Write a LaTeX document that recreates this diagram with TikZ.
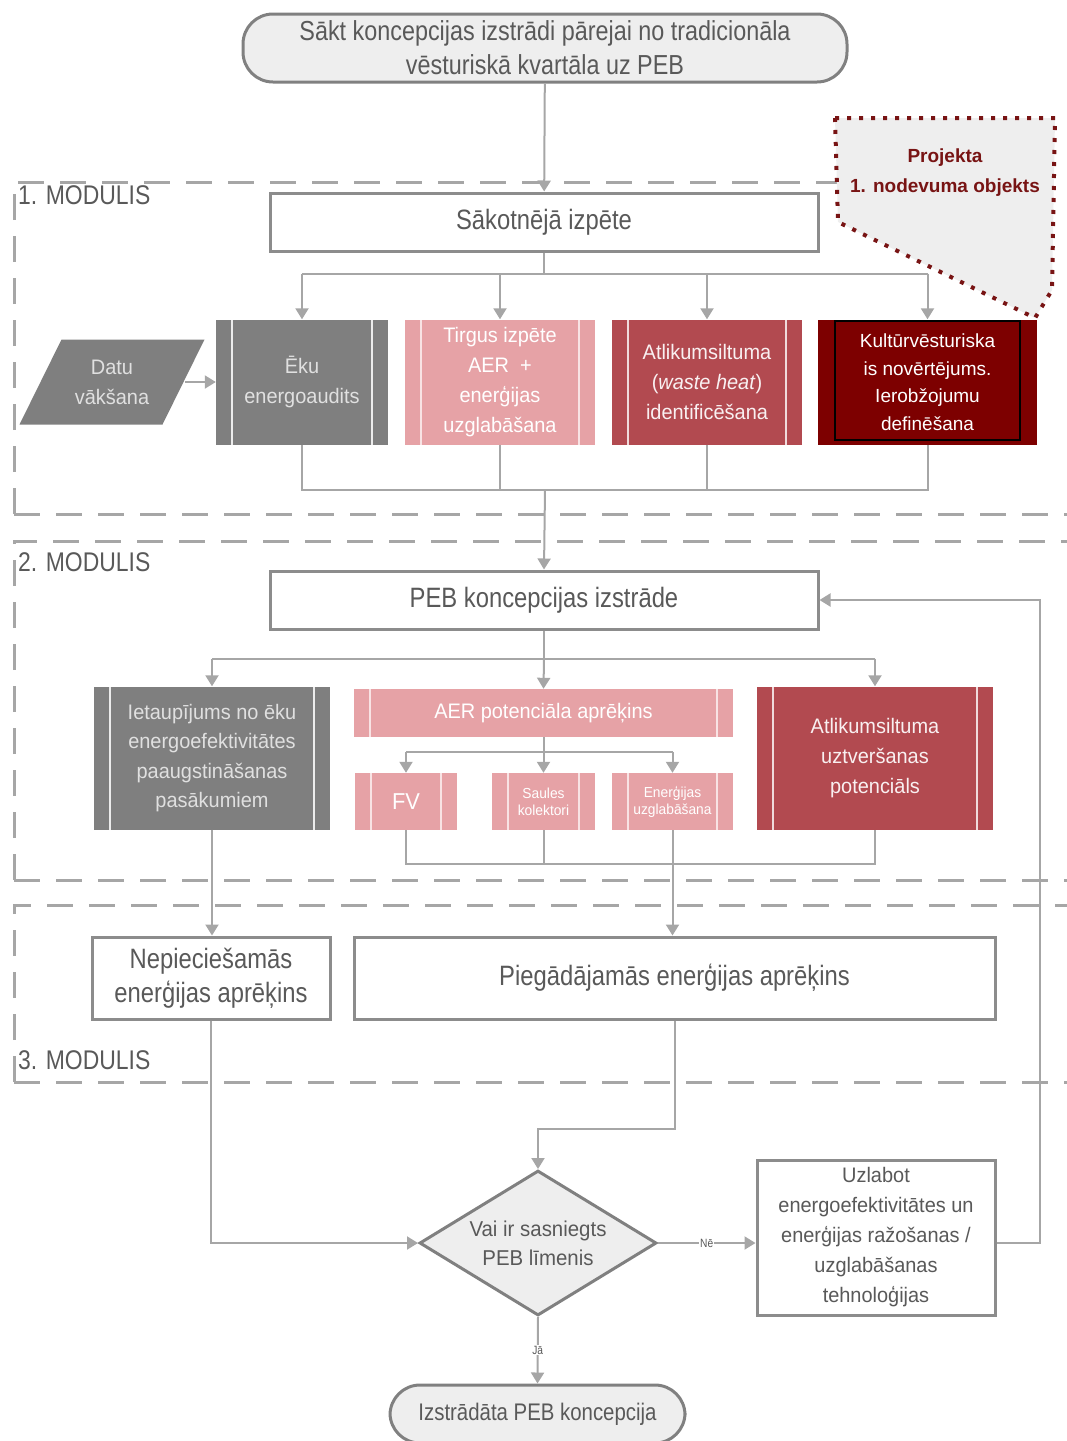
\documentclass[tikz,border=0pt]{standalone}
\usepackage{fontspec}
\setmainfont{Liberation Sans}[FakeStretch=0.85]
\newfontfamily\widefont{Liberation Sans}
\newfontfamily\boxfont{Liberation Sans}[FakeStretch=0.95]
\usetikzlibrary{shapes.geometric, arrows.meta, positioning}

\definecolor{boxgray}{RGB}{127,127,127}
\definecolor{boxpink}{RGB}{230,162,166}
\definecolor{boxred}{RGB}{178,74,80}
\definecolor{boxdark}{RGB}{125,0,0}
\definecolor{linegray}{RGB}{166,166,166}
\definecolor{framegray}{RGB}{140,140,140}
\definecolor{textgray}{RGB}{89,89,89}
\definecolor{notefill}{RGB}{238,238,238}
\definecolor{notered}{RGB}{120,20,20}

\tikzset{sidebars/.style={path picture={
  \draw[#1, line width=1.5pt]
    ([xshift=16pt]path picture bounding box.south west) -- ([xshift=16pt]path picture bounding box.north west)
    ([xshift=-16pt]path picture bounding box.south east) -- ([xshift=-16pt]path picture bounding box.north east);}}}

\tikzstyle{plain} = [rectangle, draw=framegray, line width=3pt, fill=white, text=textgray, align=center, font=\fontsize{28}{34}\selectfont]
\tikzstyle{terminal} = [rectangle, rounded corners=30pt, draw=gray, line width=3pt, fill=notefill, text=textgray, align=center, font=\fontsize{27.5}{34}\selectfont]
\tikzstyle{procgray} = [rectangle, fill=boxgray, text=white!88!black, align=center, inner sep=0pt, font=\boxfont\fontsize{21}{30}\selectfont, sidebars=white!85!boxgray]
\tikzstyle{procpink} = [rectangle, fill=boxpink, text=white, align=center, inner sep=0pt, font=\boxfont\fontsize{21}{30}\selectfont, sidebars=white!70!boxpink]
\tikzstyle{procred} = [rectangle, fill=boxred, text=white!92!boxred, align=center, inner sep=0pt, font=\boxfont\fontsize{21}{30}\selectfont, sidebars=white!80!boxred]
\tikzstyle{arrow} = [line width=2pt, draw=linegray, -{Triangle[width=13pt,length=11pt]}]
\tikzstyle{line} = [line width=2pt, draw=linegray]
\tikzstyle{modframe} = [line width=3pt, draw=linegray, dash pattern=on 26pt off 16pt]
\tikzstyle{modlabel} = [anchor=west, text=textgray, inner sep=0pt, font=\fontsize{27}{30}\selectfont]
\tikzstyle{branchlabel} = [fill=white, inner sep=1pt, text=textgray, font=\fontsize{12}{14}\selectfont]

\begin{document}
\begin{tikzpicture}[x=1pt, y=-1pt]
    \useasboundingbox (0,0) rectangle (1067,1441);

    % Module frames
    \draw [modframe] (14,514) -- (14,182) -- (1090,182);
    \draw [modframe] (14,514) -- (1090,514);
    \draw [modframe] (14,880) -- (14,541) -- (1090,541);
    \draw [modframe] (14,880) -- (1090,880);
    \draw [modframe] (14,1082) -- (14,905) -- (1090,905);
    \draw [modframe] (14,1082) -- (1090,1082);
    \node (mod1) [modlabel] at (18,195) {1. MODULIS};
    \node (mod2) [modlabel] at (18,562) {2. MODULIS};
    \node (mod3) [modlabel] at (18,1060) {3. MODULIS};

    % Callout
    \draw [notered, fill=notefill, line width=4pt, dash pattern=on 4pt off 8pt]
        (835,118) -- (1055,118) -- (1052,290) -- (1035,318) -- (838,222) -- cycle;
    \node (note) [align=center, text=notered, font=\widefont\bfseries\fontsize{19}{30}\selectfont] at (945,173) {Projekta\\1. nodevuma objekts};

    % Nodes
    \node (start) [terminal, minimum width=604pt, minimum height=68pt] at (545,48) {Sākt koncepcijas izstrādi pārejai no tradicionāla\\vēsturiskā kvartāla uz PEB};
    \node (init) [plain, minimum width=548pt, minimum height=58pt] at (544,222) {Sākotnējā izpēte};
    \node (datu) [rectangle, minimum width=185pt, minimum height=85pt, inner sep=0pt, text=white!88!black, align=center, font=\boxfont\fontsize{21}{30}\selectfont,
        path picture={\fill[boxgray] (path picture bounding box.south west) -- ([xshift=42pt]path picture bounding box.north west) -- (path picture bounding box.north east) -- ([xshift=-42pt]path picture bounding box.south east) -- cycle;}]
        at (112,382) {Datu\\vākšana};
    \node (eku) [procgray, minimum width=172pt, minimum height=125pt] at (302,382) {Ēku\\energoaudits};
    \node (tirgus) [procpink, minimum width=190pt, minimum height=125pt] at (500,382) {Tirgus izpēte\\AER \ +\\enerģijas\\uzglabāšana};
    \node (atlik1) [procred, minimum width=190pt, minimum height=125pt] at (707,382) {Atlikumsiltuma\\(\textit{waste heat})\\identificēšana};
    \node (kultur) [rectangle, fill=boxdark, text=white, align=center, inner sep=0pt, minimum width=219pt, minimum height=125pt, font=\widefont\fontsize{19}{27.5}\selectfont,
        path picture={\draw[black, line width=2pt] ([xshift=17pt,yshift=5pt]path picture bounding box.south west) rectangle ([xshift=-17pt,yshift=-1pt]path picture bounding box.north east);}]
        at (927.5,382) {Kultūrvēsturiska\\is novērtējums.\\Ierobžojumu\\definēšana};

    \node (peb) [plain, minimum width=548pt, minimum height=58pt] at (544,600) {PEB koncepcijas izstrāde};
    \node (ietaup) [procgray, minimum width=236pt, minimum height=143pt, font=\boxfont\fontsize{21}{29.5}\selectfont] at (212,758) {Ietaupījums no ēku\\energoefektivitātes\\paaugstināšanas\\pasākumiem};
    \node (aer) [procpink, minimum width=379pt, minimum height=48pt] at (543.5,713) {AER potenciāla aprēķins};
    \node (fv) [procpink, minimum width=102pt, minimum height=57pt, font=\boxfont\fontsize{23}{26}\selectfont] at (406,801.5) {FV};
    \node (saules) [procpink, minimum width=103pt, minimum height=57pt, font=\boxfont\fontsize{14.5}{17}\selectfont] at (543.5,801.5) {Saules\\kolektori};
    \node (energ) [procpink, minimum width=121pt, minimum height=57pt, font=\boxfont\fontsize{14.5}{17}\selectfont] at (672.5,801.5) {Enerģijas\\uzglabāšana};
    \node (atlik2) [procred, minimum width=236pt, minimum height=143pt] at (875,758) {Atlikumsiltuma\\uztveršanas\\potenciāls};

    \node (nepiec) [plain, minimum width=238pt, minimum height=82pt] at (211,978) {Nepieciešamās\\enerģijas aprēķins};
    \node (piegad) [plain, minimum width=641pt, minimum height=82pt] at (674.5,978) {Piegādājamās enerģijas aprēķins};

    \node (dec) [diamond, aspect=1.63, minimum width=237pt, minimum height=145pt, inner sep=0pt, draw=gray, line width=3pt, fill=notefill, text=textgray, align=center, font=\boxfont\fontsize{21.5}{29}\selectfont] at (538,1243) {Vai ir sasniegts\\PEB līmenis};
    \node (uzlab) [plain, minimum width=238pt, minimum height=155pt, font=\boxfont\fontsize{21}{30}\selectfont] at (876,1237.5) {Uzlabot\\energoefektivitātes un\\enerģijas ražošanas /\\uzglabāšanas\\tehnoloģijas};
    \node (end) [terminal, minimum width=295pt, minimum height=58pt, font=\fontsize{24}{28}\selectfont] at (537.5,1414) {Izstrādāta PEB koncepcija};

    % Arrows
    \draw [arrow] (start) -- (init);
    \draw [line] (init.south) -- ++(0,21) coordinate (b1);
    \draw [line] (eku.north |- b1) -- (kultur.north |- b1);
    \foreach \n in {eku, tirgus, atlik1, kultur}
        \draw [arrow] (\n.north |- b1) -- (\n.north);
    \draw [arrow] ([xshift=-20pt]datu.east) -- (eku.west);

    \coordinate (m1) at (545,490);
    \draw [line] (eku.south) -- (eku.south |- m1) -- (kultur.south |- m1) -- (kultur.south);
    \draw [line] (tirgus.south) -- (tirgus.south |- m1);
    \draw [line] (atlik1.south) -- (atlik1.south |- m1);
    \draw [arrow] (m1) -- (peb.north);

    \draw [line] (peb.south) -- ++(0,28) coordinate (b2);
    \draw [line] (ietaup.north |- b2) -- (atlik2.north |- b2);
    \draw [arrow] (ietaup.north |- b2) -- (ietaup.north);
    \draw [arrow] (b2) -- (aer.north);
    \draw [arrow] (atlik2.north |- b2) -- (atlik2.north);

    \draw [line] (aer.south) -- ++(0,15) coordinate (b3);
    \draw [line] (fv.north |- b3) -- (energ.north |- b3);
    \foreach \n in {fv, saules, energ}
        \draw [arrow] (\n.north |- b3) -- (\n.north);

    \coordinate (m2) at (673,864);
    \draw [line] (fv.south) -- (fv.south |- m2) -- (atlik2.south |- m2) -- (atlik2.south);
    \draw [line] (saules.south) -- (saules.south |- m2);
    \draw [arrow] (energ.south) -- (energ.south |- piegad.north);
    \draw [arrow] (ietaup.south) -- (ietaup.south |- nepiec.north);

    \draw [arrow] (nepiec.south) |- (dec.west);
    \draw [arrow] (piegad.south) -- ++(0,108) -| (dec.north);
    \draw [arrow] (dec.east) -- node[branchlabel] {Nē} (dec.east -| uzlab.west);
    \draw [arrow] (dec.south) -- node[branchlabel] {Jā} (end.north);
    \draw [arrow] (uzlab.east |- dec.east) -- ++(43,0) |- (peb.east);

\end{tikzpicture}
\end{document}
